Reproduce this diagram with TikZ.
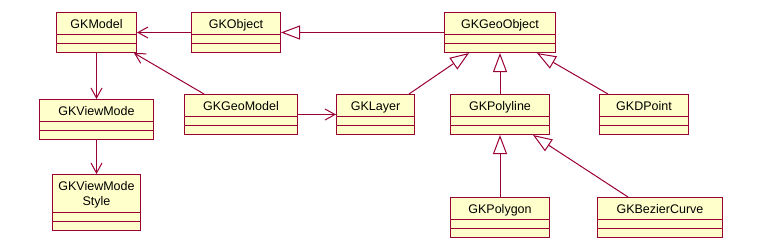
\documentclass[tikz,border=0pt]{standalone}
\usepackage{fontspec}
\setmainfont{Liberation Sans}
\usepackage{tikz}
\usetikzlibrary{arrows.meta,calc,positioning}
\definecolor{umlrojo}{RGB}{153,0,51}
\definecolor{umlfondo}{RGB}{255,255,204}
\tikzset{
  clase/.style={draw=umlrojo,fill=umlfondo,line width=1pt,anchor=north west,
    inner xsep=0pt,inner ysep=0pt,text height=16pt,text depth=24pt,align=center,
    font=\fontsize{12.5}{15}\selectfont,
    path picture={
      \draw[umlrojo,line width=1pt] ([yshift=18pt]path picture bounding box.south west) -- ([yshift=18pt]path picture bounding box.south east);
      \draw[umlrojo,line width=1pt] ([yshift=9pt]path picture bounding box.south west) -- ([yshift=9pt]path picture bounding box.south east);
    }},
  usa/.style={draw=umlrojo,line width=1pt,-{Straight Barb[length=10pt,width=11pt]}},
  hereda/.style={draw=umlrojo,line width=1pt,-{Triangle[open,length=19pt,width=14pt]}}
}

\begin{document}
\begin{tikzpicture}[x=1pt,y=-1pt]
\useasboundingbox (0,0) rectangle (759,250);
% fila superior
\node[clase,minimum width=80pt] (model) at (56,12) {GKModel};
\node[clase,minimum width=89pt] (object) at (191,12) {GKObject};
\node[clase,minimum width=111pt] (geoobject) at (444,12) {GKGeoObject};
% fila del medio
\node[clase,minimum width=114pt] (viewmode) at (39,99) {GKViewMode};
\node[clase,minimum width=113pt] (geomodel) at (184,94) {GKGeoModel};
\node[clase,minimum width=78pt] (layer) at (336,94) {GKLayer};
\node[clase,minimum width=99pt] (polyline) at (450,94) {GKPolyline};
\node[clase,minimum width=89pt] (dpoint) at (599,94) {GKDPoint};
% fila inferior
\node[clase,minimum width=88pt,text height=31pt,text depth=25pt] (viewstyle) at (52,174) {GKViewMode\\Style};
\node[clase,minimum width=99pt] (polygon) at (450,197) {GKPolygon};
\node[clase,minimum width=125pt] (bezier) at (597,197) {GKBezierCurve};
% asociaciones
\draw[usa] (object.west) -- (model.east);
\draw[usa] (model.south) -- (viewmode.north);
\draw[usa] (viewmode.south) -- (viewstyle.north);
\draw[usa] ([xshift=20pt]geomodel.north west) -- ([xshift=-3pt]model.south east);
\draw[usa] (geomodel.east) -- (layer.west);
% herencia
\draw[hereda] (geoobject.west) -- (object.east);
\draw[hereda] ([xshift=-6pt]layer.north east) -- ([xshift=25pt]geoobject.south west);
\draw[hereda] (polyline.north) -- (geoobject.south);
\draw[hereda] ([xshift=9pt]dpoint.north west) -- ([xshift=-19pt]geoobject.south east);
\draw[hereda] (polygon.north) -- (polyline.south);
\draw[hereda] ([xshift=31pt]bezier.north west) -- ([xshift=-17pt]polyline.south east);
\end{tikzpicture}
\end{document}
